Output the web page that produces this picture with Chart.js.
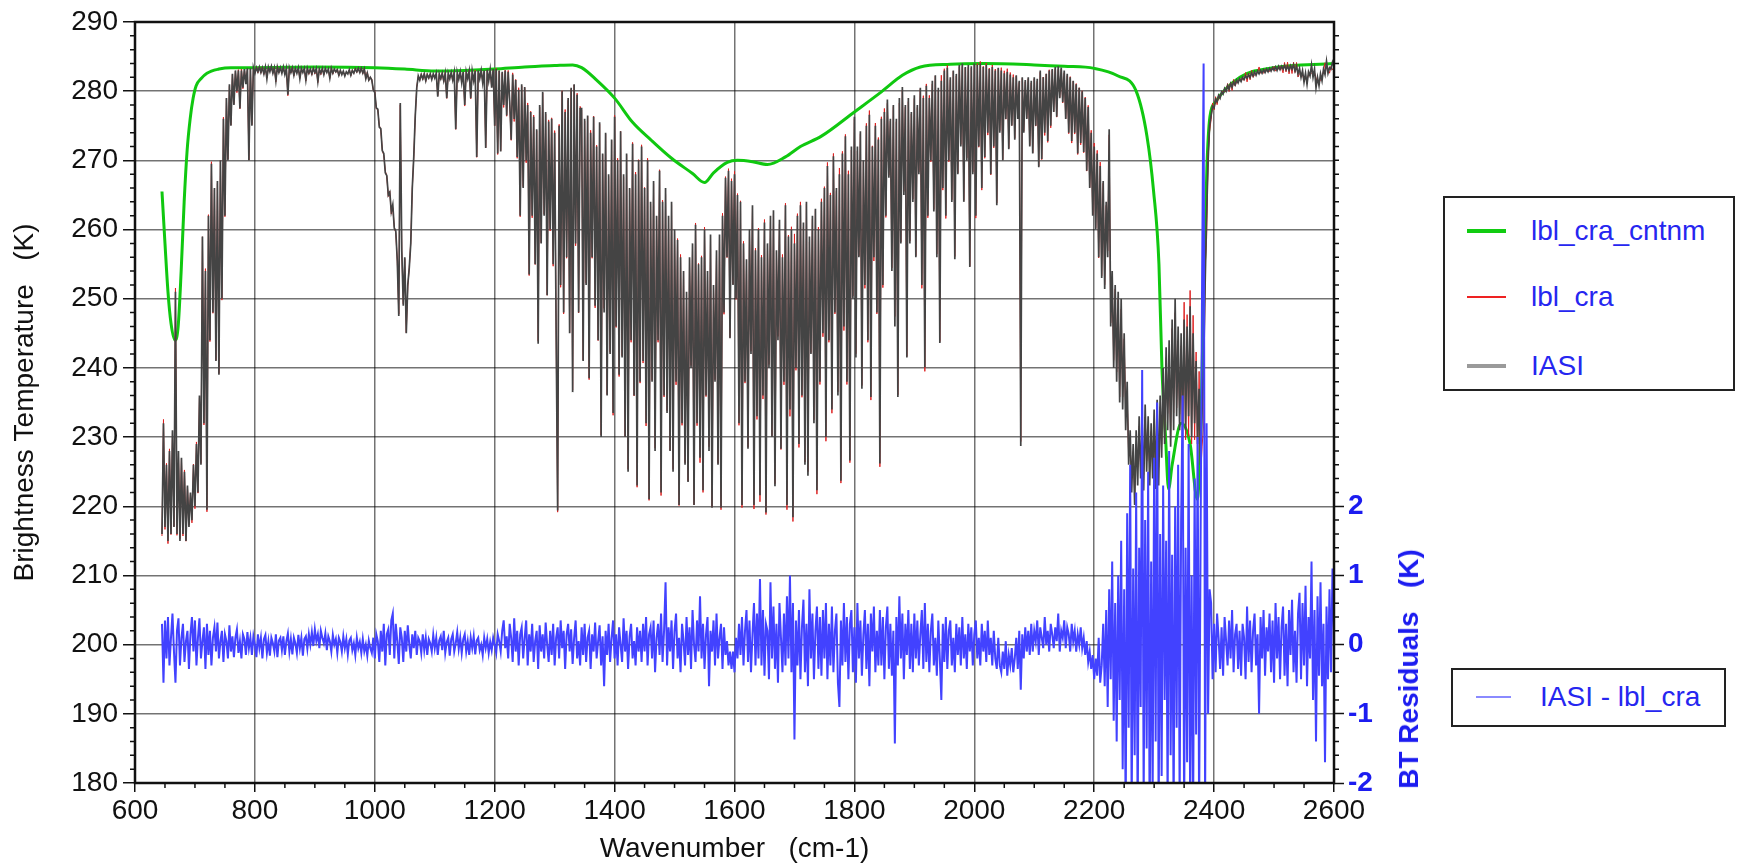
<!DOCTYPE html>
<html>
<head>
<meta charset="utf-8">
<title>IASI brightness temperature spectrum</title>
<script src="https://cdn.jsdelivr.net/npm/chart.js@4.4.1/dist/chart.umd.min.js"></script>
<style>
  body { margin: 0; background: #fff; }
  #wrap { position: relative; width: 1740px; height: 868px; font-family: 'Liberation Sans', Arial, sans-serif; }
  #spec { position: absolute; left: 0; top: 0; }
  .legend { position: absolute; border: 2px solid #222; box-sizing: border-box; background: #fff; }
  .swatch { position: absolute; }
  .item { position: absolute; color: #2626f0; font-size: 28px; line-height: 1; white-space: pre; transform: translateY(-50%); }
  #residTitle { position: absolute; left: 1409px; top: 669px; color: #1c1cf0; font-size: 28px; font-weight: bold;
                white-space: pre; transform: translate(-50%, -50%) rotate(-90deg); }
</style>
</head>
<body>
<div id="wrap">
  <canvas id="spec" width="1740" height="868"></canvas>

  <div class="legend" style="left:1443px;top:196px;width:292px;height:195px"></div>
  <div class="swatch" style="left:1467px;top:229px;width:39px;height:4px;background:#11cc11"></div>
  <div class="item" style="left:1531px;top:231px">lbl_cra_cntnm</div>
  <div class="swatch" style="left:1467px;top:296px;width:39px;height:2px;background:#ee2222"></div>
  <div class="item" style="left:1531px;top:297px">lbl_cra</div>
  <div class="swatch" style="left:1467px;top:364px;width:39px;height:4px;background:#9a9a9a"></div>
  <div class="item" style="left:1531px;top:366px">IASI</div>

  <div class="legend" style="left:1451px;top:668px;width:275px;height:59px"></div>
  <div class="swatch" style="left:1476px;top:696px;width:35px;height:2px;background:#8a8aff"></div>
  <div class="item" style="left:1540px;top:697px">IASI - lbl_cra</div>

  <div id="residTitle">BT Residuals   (K)</div>
</div>

<script>
// spectral grid: 645 cm-1 upwards in 2.5 cm-1 steps
const wnStart = 645;
const wnStep = 2.5;

// IASI brightness temperature (K), one block per 200 cm-1
const iasi0645 = [
  216,232,217,226,215,228,216,231,217,251,216,228,215,227,216,225,215,223,217,222,
  218,226,220,229,222,236,226,259,232,254,219.5,262,244,269.5,248,266,241,267,239,270,
  250,276,262,279,270,281,275,282.5,278,283,280,283,277.5,283,280.5,283.2,281,283.3,270,283.3,
  275,283.4,282.6,283.4,282.8,283.5,282.7,283.4,282.5,283.5,281.8,283.5,282.8,283.6,282.6,283.4,281.5,283.5,282.7,283.4
];
const iasi0845 = [
  282.6,283.5,282.4,283.3,279.5,283.4,282.7,283.4,282.3,283.3,282.6,283.4,281.8,283.3,282.7,283.3,281.6,283.3,282.6,283.2,
  282.5,283.3,282.7,283.3,281.4,283.2,282.6,283.3,282.4,283.3,282.7,283.2,281.9,283.3,282.6,283.2,282.8,283.1,282.3,283.0,
  282.4,282.9,282.2,282.8,282.5,283.1,282.3,283.0,282.6,283.2,282.8,283.3,282.7,283.3,282.6,283.2,281.8,282.6,281.6,282.0,
  281.6,280.2,279.8,277.6,277.4,274.8,274.6,271.4,271.0,268.2,267.8,265.0,265.4,262.6,263.6,260.2,259.8,255.5,247.5,278.3
];
const iasi1045 = [
  257,249,256,245,252,254.5,258,266,270.5,276.5,280.5,282.2,281.6,282.4,281.8,282.5,281.5,282.4,281.9,282.5,
  281.7,282.5,281.9,282.6,279.2,282.5,281.8,282.6,281.5,282.6,279.0,282.6,281.8,282.7,281.6,282.7,274.5,282.7,281.7,282.8,
  281.2,282.8,278.0,282.8,281.8,282.9,279.0,282.9,281.5,282.9,270.5,283.0,281.8,283.0,281.2,283.0,271.8,283.1,281.5,283.1,
  280.5,283.2,275.0,283.2,271.0,283.0,271.3,282.8,278.0,283.0,276.5,282.8,278.5,273.0,282.4,276.0,281.6,270.5,280.2,262.0
];
const iasi1245 = [
  281.0,266,280.6,270,278,253.5,277,262,276.3,255,274.5,243.5,278,258,279.9,262,277,250.5,275.6,260,
  276,255,274,245,219.4,275,252,280,248,277,256,279,245,280.5,236.5,281,258,279.5,248,277.5,
  277.5,241,276,252,276.5,238.5,274,256,276.3,249,272,244,275.5,230,271,248,274,236,268,242,
  273,233.5,276.3,246,270,239,274.2,241.5,268,230,271,225,266,244,272.4,236,268,223,270,238
];
const iasi1445 = [
  272,241,266,232,270,221,264,238,267,228,262,244,268.5,222,264,236,266,233.5,262,228,
  264,225,260,238,258.5,220.2,256,232,254,226,251,223.5,256,240,258,220.2,260.7,232,255,227,
  256,222.3,260,236,254,228,259.3,219.8,252,238,257,226,259.3,219.8,262,248,267.5,256,268.5,244.3,
  267,252,268,250,265,232,264,220.2,258,238,255.7,228.3,260,242,263.5,220.2,257,233,260,221.6
];
const iasi1645 = [
  256,236,261,219.1,258,240,262,230,262.8,222.9,257,244,261.4,228.3,256,238,263.5,220.2,259,234,
  260,218.4,258,240,262,229,263.5,236,261,226,264,224.4,259,242,262,232,263,222.3,260,238,
  264,245,266,230,269.2,244,265,234,270.6,248,266,236,268,223.7,271,246,273.5,238,268,226.6,
  272,250,276.3,241.5,272,256,274.2,237,270,252,275,244,276.6,235.8,272,256,275,248,273,226.2
];
const iasi1845 = [
  276,252,277,262,278.8,267.5,276,254,278,246,276,235.8,279,258,280.6,265,278,241.5,279,258,
  277,264,279.4,256,278,268,280.5,252,279,240.1,280.8,262,279,270,281.5,262.6,282.3,256,280.5,243.6,
  281.5,266,283,262,283.4,270,282,264,283,255.7,282.5,268,283.8,272,284,264,283.5,270,283.8,254.6,
  283.6,268,284,262,283.8,272,284,266,283.5,270.5,283.8,274,283.2,268,283.5,272,283,263.5,283.4,274
];
const iasi2045 = [
  283,270,282.6,276,282.8,271.6,282.4,275,282,273,282.3,276,281.5,228.7,282,274,281.6,276,282,272,
  281.5,271,282,275,281.8,269,283,270.2,282,274,282.5,272.8,283,275,283.2,277,283.5,276.3,283.6,279,
  283.4,278.4,283,276,282.5,274,282,272.8,281.5,274,281,271,280.5,272.5,280,271.2,279,268.5,277.7,266,
  274,262,272,260,271,256,269.2,253,267,251.4,264,256,274.5,246,254,240,252,238,251,235
];
const iasi2245 = [
  250,234,245,231,238,226,231,222,229,220.2,231,223,233,224,232,222.3,234.7,225,233,223,
  232,224,234,222.5,235.4,223,236,227,240,229,243,231,244,228.6,247,231,250,233,246,231,
  245,232,247,231,246,233,248.9,230,245,232,241,229,237,226,234,240,252,262,270,275,
  276.5,277.8,277.6,278.8,278.5,279.4,279.0,279.9,279.6,280.4,280.0,280.8,280.3,281.1,280.6,281.3,280.9,281.6,281.2,281.8
];
const iasi2445 = [
  281.4,282.0,281.7,282.2,281.9,282.4,282.0,282.6,282.2,282.8,282.3,282.9,282.5,283.0,282.6,283.1,282.7,283.2,282.8,283.3,
  282.9,283.4,283.0,283.5,283.0,283.6,283.1,283.6,283.2,283.7,283.1,283.6,283.0,283.7,283.2,283.8,282.9,283.6,282.5,283.3,
  282.0,283.0,281.3,282.6,281.0,282.8,282.2,283.8,282.0,283.2,280.5,282.0,280.8,282.5,281.5,283.2,282.4,284.3,282.6,283.4,
  283.2,284.2,283.6
];

// IASI - lbl_cra residuals (K), same grid
const resid0645 = [
  0.3,-0.55,0.35,-0.2,0.4,-0.3,0.1,0.45,-0.1,-0.55,0.2,0.38,-0.3,0.1,0.3,-0.25,0.05,0.2,-0.35,0.15,
  0.4,-0.1,0.35,-0.3,0.1,0.38,-0.2,0.05,0.25,-0.35,0.3,-0.15,0.2,-0.3,0.1,0.25,-0.1,0.32,-0.2,0.05,
  0.2,-0.25,0.15,0.05,-0.2,0.28,-0.1,0.12,-0.18,0.1,0.22,-0.12,0.05,-0.2,0.15,0.08,-0.15,0.18,-0.05,0.1,
  -0.15,0.12,0,-0.18,0.15,-0.05,0.1,-0.2,0.08,0.14,-0.12,0.05,-0.16,0.1,0.02,-0.1,0.15,-0.18,0.06,0.1
];
const resid0845 = [
  -0.08,0.12,-0.15,0.05,0.16,-0.1,0.08,-0.14,0.1,0.02,-0.12,0.14,-0.05,0.1,-0.16,0.08,0.12,-0.06,0.15,0,
  0.18,-0.02,0.22,0.05,0.15,-0.05,0.2,0.1,0.02,0.16,-0.08,0.12,0.05,-0.1,0.14,0,0.08,-0.12,0.1,0.04,
  -0.1,0.12,-0.05,0.08,-0.14,0.06,0.1,-0.08,0.02,-0.15,0.1,-0.05,0.04,-0.12,0.08,-0.1,0,-0.16,0.06,-0.05,
  -0.12,0.1,-0.2,0.15,0.05,-0.25,0.2,-0.1,0.3,-0.3,0.15,0.22,-0.15,0.35,0.45,-0.2,0.3,0.05,-0.28,0.25
];
const resid1045 = [
  0.1,-0.25,0.2,-0.1,0.28,0,-0.2,0.15,-0.05,0.2,-0.15,0.1,0.05,-0.12,0.15,-0.08,0.1,-0.15,0.08,0.02,
  -0.1,0.14,-0.05,0.1,-0.15,0.06,0.12,-0.08,0.2,-0.12,0.04,0.1,-0.16,0.08,0.15,-0.1,0.02,0.18,-0.06,0.1,
  -0.12,0.08,0.15,-0.1,0.05,-0.15,0.1,-0.05,0.12,-0.14,0.06,0.1,-0.08,0,-0.15,0.1,-0.05,0.08,-0.12,0.04,
  -0.08,0.1,0,-0.12,0.15,0.05,-0.1,0.2,0.35,-0.05,0.12,-0.2,0.3,0.1,-0.25,0.38,-0.1,0.2,-0.3,0.15
];
const resid1245 = [
  0.25,-0.2,0.1,0.35,-0.3,0.15,-0.1,0.3,-0.25,0.05,0.2,-0.35,0.28,-0.1,0.15,-0.2,0.32,0,-0.25,0.2,
  -0.15,0.3,-0.3,0.1,0.25,-0.2,0.35,-0.05,0.2,-0.35,0.15,0.3,-0.1,0.22,-0.28,0.1,0.35,-0.2,0.05,-0.3,
  0.25,-0.15,0.3,-0.25,0.1,0.2,-0.35,0.15,-0.1,0.32,-0.2,0.05,0.28,-0.3,0.12,-0.6,0.2,-0.15,0.3,-0.25,
  0.1,0.35,-0.2,0.15,-0.3,0.25,0,-0.25,0.38,-0.1,0.2,-0.35,0.12,0.3,-0.2,0.05,-0.3,0.25,-0.1,0.2
];
const resid1445 = [
  -0.25,0.3,-0.1,0.4,-0.3,0.15,0.25,-0.2,0.35,-0.4,0.1,0.3,-0.15,0.45,-0.25,0.2,0.9,-0.3,0.25,-0.1,
  0.35,-0.35,0.2,0.45,-0.2,0.1,-0.4,0.3,0.05,-0.3,0.4,-0.15,0.25,-0.35,0.5,0,-0.25,0.35,-0.1,0.7,
  -0.2,0.3,-0.35,0.15,0.4,-0.6,0.2,-0.1,0.35,-0.3,0.45,-0.2,0.1,0.3,-0.35,0.25,-0.15,0.05,-0.3,-0.1,
  -0.35,-0.1,-0.4,0.1,-0.2,0.3,-0.15,0.4,-0.3,0.2,0.5,-0.25,0.35,-0.4,0.15,0.6,-0.3,0.45,-0.2,0.95
];
const resid1645 = [
  -0.3,0.5,-0.45,0.3,0.2,-0.5,0.9,-0.2,0.55,-0.35,0.3,-0.55,0.6,0.1,-0.4,0.45,-0.3,0.7,-0.2,1,
  -0.4,0.6,-1.37,0.35,-0.3,0.5,-0.5,0.25,0.65,-0.4,0.3,-0.6,0.8,-0.2,0.45,-0.5,0.2,0.55,-0.35,0.4,
  -0.45,0.5,-0.2,0.6,-0.5,0.3,-0.3,0.55,-0.4,0.2,0.45,-0.55,-0.9,0.35,-0.3,0.6,-0.25,0.4,-0.5,0.3,
  0.5,-0.4,0.25,-0.55,0.6,-0.2,0.35,-0.45,0.15,0.5,-0.35,0.3,-0.6,0.45,-0.1,0.55,-0.4,0.2,-0.3,0.5
];
const resid1845 = [
  -0.3,0.4,-0.5,0.25,0.55,-0.35,0.3,-0.45,0.2,-1.43,0.4,-0.3,0.7,-0.2,0.45,-0.5,0.3,-0.15,0.5,-0.35,
  0.3,-0.4,0.45,-0.2,0.35,-0.3,0.15,0.5,-0.35,0.6,-0.25,0.3,-0.4,0.2,0.45,-0.3,0.1,-0.45,0.35,-0.2,
  -0.8,0.3,-0.25,0.4,-0.35,0.2,0.35,-0.3,0.1,-0.4,0.3,-0.15,0.25,-0.3,0.4,-0.2,0.15,-0.35,0.3,-0.1,
  0.25,-0.3,0.15,0.35,-0.2,0.1,-0.3,0.3,-0.1,0.2,-0.25,0.35,-0.15,0.1,-0.3,0.2,-0.2,-0.35,0.1,-0.3
];
const resid2045 = [
  -0.4,-0.1,-0.35,0.05,-0.45,-0.15,-0.3,-0.05,-0.4,-0.2,0.1,-0.35,0.2,-0.65,0.15,-0.2,0.25,-0.1,0.2,-0.15,
  0.3,-0.1,0.2,0.05,0.35,-0.15,0.25,0.1,-0.05,0.4,0,0.2,-0.1,0.3,0.15,-0.05,0.25,0.05,0.45,-0.1,
  0.2,0.1,0.35,-0.05,0.25,0.15,-0.1,0.3,0.05,0.2,-0.1,0.15,0,0.25,-0.05,0.1,-0.15,0.05,-0.25,-0.1,
  -0.35,-0.15,-0.5,-0.2,-0.45,0.1,-0.55,-0.3,0.3,-0.6,0.5,-0.9,0.8,-0.5,1.2,-1.1,0.6,-1.4,1,-0.8
];
const resid2245 = [
  1.5,-1.8,0.8,-2.5,1.9,-1.2,2.6,-2.4,1.1,-1.6,2.2,-2.6,1.4,-0.9,3.97,-2.3,1.8,-1.5,2.5,-2.7,
  1.2,-2.2,2.7,-1.4,3.5,-2.6,1.6,-1.9,2.3,-0.8,1.5,-2.4,2.8,-1.6,1.3,-2.5,2,-1.2,2.6,-2.3,
  1.8,3.6,-2.5,1.4,-1.7,2.9,-2.3,1,-2.6,2.4,-1.3,3,-2.5,1.6,5.3,8.4,-2.4,3.2,-1,0.8,
  0.6,-0.5,0.3,-0.4,0.45,0.1,-0.35,0.25,-0.45,0.4,0.05,-0.3,0.35,-0.2,0.5,-0.4,0.15,0.3,-0.35,0.2
];
const resid2445 = [
  -0.45,0.3,0.1,-0.5,0.55,-0.25,0.35,-0.4,0.2,0.45,-0.3,0.15,-1,0.4,-0.2,0.5,-0.45,0.25,-0.1,0.45,
  -0.4,0.35,-0.55,0.6,-0.2,0.4,-0.5,0.25,0.55,-0.45,0.3,-0.6,0.5,-0.15,0.65,-0.4,0.2,-0.55,0.45,0.75,
  -0.5,0.6,-0.3,0.85,-0.6,0.4,-0.2,1.2,-0.8,0.5,-1.4,0.7,-0.45,0.9,-0.6,0.3,-1.7,0.55,-0.5,0.8,
  -0.4,1.1,0.2
];

// continuum-only calculation, smooth curve at irregular wavenumbers
const cntnmWn = [645,650,655,660,667,672,677,682,687,692,697,702,710,720,740,760,800,900,1000,1050,
  1100,1150,1200,1250,1300,1330,1345,1370,1400,1430,1460,1495,1530,1550,1565,1588,1605,1630,1655,1685,
  1710,1745,1800,1845,1880,1910,1960,2015,2100,2150,2200,2240,2270,2288,2299,2308,2313,2319,2324,2330,
  2345,2360,2372,2378,2382,2388,2393,2402,2443,2498,2600];
const cntnmBT = [265.5,258,251,246.5,244,246,254,264,271.5,276,279,280.8,281.8,282.6,283.2,283.4,283.4,283.5,283.4,283.2,
  282.9,283.0,283.2,283.5,283.7,283.8,283.4,281.6,279,275.5,273,270.3,268.1,266.8,268.2,269.7,270,269.8,269.4,270.5,
  272,273.5,277,279.9,282.3,283.5,283.9,284.0,283.8,283.6,283.3,282.2,280,273.5,265.6,255,240,230,222.5,226,
  232,229,221,232,248,269,276.3,278.4,282,283.4,284];

const iasiBT = [].concat(iasi0645, iasi0845, iasi1045, iasi1245, iasi1445,
                         iasi1645, iasi1845, iasi2045, iasi2245, iasi2445);
const residBT = [].concat(resid0645, resid0845, resid1045, resid1245, resid1445,
                          resid1645, resid1845, resid2045, resid2245, resid2445);

const wn = i => wnStart + i * wnStep;
const iasiPts = iasiBT.map((v, i) => ({ x: wn(i), y: v }));
const residPts = residBT.map((v, i) => ({ x: wn(i), y: v }));
// lbl_cra = IASI - (IASI - lbl_cra)
const lblPts = iasiBT.map((v, i) => ({ x: wn(i), y: v - residBT[i] }));
const cntnmPts = cntnmWn.map((w, i) => ({ x: w, y: cntnmBT[i] }));

Chart.defaults.font.family = "'Liberation Sans', Arial, sans-serif";
Chart.defaults.font.size = 28;
Chart.defaults.color = '#111';

const gridColor = 'rgba(0,0,0,0.55)';

// frame round the plot plus the small minor ticks on three sides
const frame = {
  id: 'frame',
  afterDatasetsDraw(chart) {
    const { ctx, chartArea: a, scales: { x, y, y2 } } = chart;
    ctx.save();
    ctx.strokeStyle = '#111';
    ctx.lineWidth = 1.5;
    ctx.beginPath();
    for (let v = 650; v < 2600; v += 50) {
      if ((v - 600) % 200 === 0) continue;
      const px = x.getPixelForValue(v);
      ctx.moveTo(px, a.bottom); ctx.lineTo(px, a.bottom + 5);
    }
    for (let v = 182; v < 290; v += 2) {
      if (v % 10 === 0) continue;
      const py = y.getPixelForValue(v);
      ctx.moveTo(a.left, py); ctx.lineTo(a.left - 5, py);
    }
    for (let k = -9; k < 45; k++) {
      if (k % 5 === 0 && k <= 10) continue;
      const py = y2.getPixelForValue(k / 5);
      ctx.moveTo(a.right, py); ctx.lineTo(a.right + 5, py);
    }
    ctx.stroke();
    ctx.lineWidth = 2.5;
    ctx.strokeRect(a.left, a.top, a.right - a.left, a.bottom - a.top);
    ctx.restore();
  }
};

new Chart(document.getElementById('spec'), {
  type: 'line',
  data: {
    datasets: [
      { label: 'IASI - lbl_cra', data: residPts, yAxisID: 'y2', borderColor: 'rgb(66,66,255)', borderWidth: 2 },
      { label: 'IASI', data: iasiPts, yAxisID: 'y', borderColor: '#444444', borderWidth: 1.7 },
      { label: 'lbl_cra', data: lblPts, yAxisID: 'y', borderColor: '#dd2020', borderWidth: 1 },
      { label: 'lbl_cra_cntnm', data: cntnmPts, yAxisID: 'y', borderColor: '#10c810', borderWidth: 3,
        cubicInterpolationMode: 'monotone' }
    ]
  },
  options: {
    responsive: false,
    animation: false,
    devicePixelRatio: 1,
    layout: { padding: { top: 22, right: 0, bottom: 0, left: 0 } },
    elements: { point: { radius: 0 }, line: { tension: 0 } },
    plugins: { legend: { display: false }, tooltip: { enabled: false } },
    scales: {
      x: {
        type: 'linear', min: 600, max: 2600,
        ticks: { stepSize: 200, padding: 2, maxRotation: 0, autoSkip: false, callback: v => String(v) },
        grid: { color: gridColor, lineWidth: 1.5, tickLength: 9, tickColor: '#111', tickWidth: 1.5 },
        border: { display: false },
        title: { display: true, text: 'Wavenumber   (cm-1)', padding: { top: 0, bottom: 2 } },
        afterFit: s => { s.height = 85; }
      },
      y: {
        position: 'left', min: 180, max: 290,
        ticks: { stepSize: 10, padding: 5 },
        grid: { color: gridColor, lineWidth: 1.5, tickLength: 12, tickColor: '#111', tickWidth: 1.5 },
        border: { display: false },
        title: { display: true, text: 'Brightness Temperature   (K)', padding: { top: 8, bottom: 0 } },
        afterFit: s => { s.width = 135; }
      },
      y2: {
        position: 'right', min: -2, max: 9,
        ticks: { stepSize: 1, padding: 4, color: '#1c1cf0', font: { weight: 'bold' } },
        grid: { drawOnChartArea: false, tickLength: 10, tickColor: '#111', tickWidth: 1.5 },
        border: { display: false },
        afterBuildTicks: s => { s.ticks = s.ticks.filter(t => t.value <= 2); },
        afterFit: s => { s.width = 406; }
      }
    }
  },
  plugins: [frame]
});
</script>
</body>
</html>
